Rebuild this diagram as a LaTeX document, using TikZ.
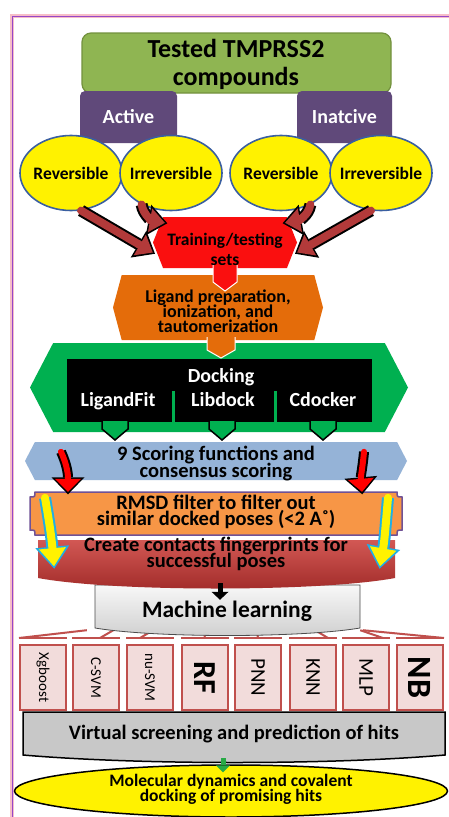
\documentclass[tikz,border=0pt]{standalone}
\usepackage{fontspec}
\setmainfont{Carlito}
\usetikzlibrary{shapes.geometric,shapes.symbols,arrows.meta,calc}

\definecolor{olivegrn}{RGB}{143,181,82}
\definecolor{olivedk}{RGB}{115,145,62}
\definecolor{violetbox}{RGB}{96,73,122}
\definecolor{ellblue}{RGB}{58,95,160}
\definecolor{trainred}{RGB}{250,15,15}
\definecolor{prepor}{RGB}{228,108,10}
\definecolor{dockgrn}{RGB}{0,176,80}
\definecolor{scoreblue}{RGB}{149,179,215}
\definecolor{rmsdor}{RGB}{247,150,70}
\definecolor{rmsdline}{RGB}{112,82,150}
\definecolor{fptop}{RGB}{210,88,84}
\definecolor{fpbot}{RGB}{160,42,40}
\definecolor{fpred}{RGB}{192,80,77}
\definecolor{algopink}{RGB}{242,220,219}
\definecolor{arrred}{RGB}{178,58,58}
\definecolor{cyanline}{RGB}{30,175,230}
\definecolor{arrgrn}{RGB}{40,170,70}
\definecolor{framepink}{RGB}{246,190,200}
\definecolor{framevio}{RGB}{150,70,200}
\definecolor{vsgray}{RGB}{200,200,200}

\newcommand\fsz[2]{\fontsize{#1}{#2}\selectfont\lineskiplimit=-100pt\bfseries}
\newcommand\fsr[1]{\fontsize{#1}{#1}\selectfont}

\tikzset{
  every node/.style={align=center, inner sep=0pt},
  cmpd/.style={fill=olivegrn, draw=olivedk, line width=1.2pt, rounded corners=9pt,
    minimum width=309pt, minimum height=60pt},
  grp/.style={fill=violetbox, rounded corners=5pt, minimum height=52pt, text=white,
    font=\fsz{20}{22}},
  kind/.style={ellipse, fill=yellow, draw=ellblue, line width=1.6pt, minimum width=102pt,
    minimum height=75pt, inner xsep=-8pt, font=\fsz{17.5}{20}},
  hexa/.style={signal, signal to=west and east, fill=#1},
  tab/.style={fill=#1, draw=white, line width=1pt},
  algo/.style={fill=algopink, draw=fpred, line width=2pt, minimum width=46pt, minimum height=65pt},
  fan/.style={draw=fpred, line width=2pt},
  bigarr/.style={draw=arrred, line width=8pt, line cap=round,
    -{Triangle[length=15pt,width=24pt,line width=0pt]},
    preaction={draw=black, line width=12pt, -{Triangle[length=19pt,width=31pt,line width=0pt]},
      shorten >=-2.5pt}},
  bentarr/.style={draw=red, line width=6pt, line cap=round,
    -{Triangle[length=13pt,width=26pt,line width=0pt]},
    preaction={draw=black, line width=10pt, -{Triangle[length=17pt,width=33pt,line width=0pt]},
      shorten >=-2.5pt}},
  yelarr/.style={draw=yellow, line width=8pt, line cap=round,
    -{Triangle[length=18pt,width=27pt,line width=0pt]},
    preaction={draw=cyanline, line width=12pt, -{Triangle[length=22pt,width=34pt,line width=0pt]},
      shorten >=-2.5pt}},
}

\begin{document}
\begin{tikzpicture}[x=1pt, y=-1pt]
\useasboundingbox (0,0) rectangle (449,817);
\fill[white] (0,0) rectangle (449,817);
% frame
\draw[framepink, line width=4pt] (12,817) -- (12,16) -- (449,16);
\draw[framevio, line width=0.8pt] (12,817) -- (12,16) -- (449,16);

% compounds
\node[cmpd] (cmp) at (236.5,63) {};
\node[font=\fsz{26}{28}, anchor=base] (cmptxt) at (236,85) {Tested TMPRSS2\\compounds};
\node[grp, minimum width=97pt] (act) at (128.5,117) {Active};
\node[grp, minimum width=95pt] (inact) at (344.5,117) {Inatcive};
\node[kind] (r1) at (71,173) {Reversible};
\node[kind] (i1) at (171,173) {Irreversible};
\node[kind] (r2) at (281,173) {Reversible};
\node[kind] (i2) at (381,173) {Irreversible};

% docking
\node[hexa=dockgrn, signal pointer angle=125, minimum width=378pt, minimum height=89pt] (dock) at (219,387.5) {};
\node[fill=black, minimum width=305pt, minimum height=63pt] (dockbox) at (219.5,390.5) {};
\draw[dockgrn, line width=3pt] (173,391) -- (173,422);
\draw[dockgrn, line width=3pt] (275,391) -- (275,422);
\node[font=\fsz{20}{22}, text=white, anchor=base] (docktxt) at (221,382) {Docking};
\node[font=\fsz{20}{22}, text=white, anchor=base] (lf) at (118,406) {LigandFit};
\node[font=\fsz{20}{22}, text=white, anchor=base] (ld) at (223,406) {Libdock};
\node[font=\fsz{20}{22}, text=white, anchor=base] (cd) at (323,406) {Cdocker};

% preparation
\node[hexa=prepor, signal pointer angle=150, minimum width=210pt, minimum height=65pt] (prep) at (218,307.5) {};
\node[font=\fsz{18}{15}, anchor=base] (preptxt) at (218,332) {Ligand preparation,\\ionization, and\\tautomerization};
\path[tab=prepor] (207,337) -- (207,350) -- (221,358) -- (235,350) -- (235,337);

% training
\node[hexa=trainred, signal pointer angle=137, minimum width=144pt, minimum height=51pt] (trn) at (225,242.5) {};
\node[font=\fsz{17.5}{20}, anchor=base] (trntxt) at (225,265) {Training/testing\\sets};
\path[tab=trainred] (213,265) -- (213,282) -- (225,291) -- (237,282) -- (237,265);

% scoring
\node[hexa=scoreblue, signal pointer angle=125, minimum width=382pt, minimum height=38pt] (score) at (216,461) {};
\node[font=\fsz{20.5}{17}, anchor=base] (scoretxt) at (216,477.5) {9 Scoring functions and\\consensus scoring};
\draw[fill=dockgrn, line width=1.5pt] (102,421) -- (102,429) -- (115,440) -- (128,429) -- (128,421);
\draw[fill=dockgrn, line width=1.5pt] (209,421) -- (209,429) -- (222,440) -- (235,429) -- (235,421);
\draw[fill=dockgrn, line width=1.5pt] (310,421) -- (310,429) -- (323,440) -- (336,429) -- (336,421);

% arrows into training set
\draw[bigarr] (r1.-75) -- ([yshift=-10pt]trn.west);
\draw[bigarr] (i1.-133) to[out=-80, in=170] ([xshift=2pt,yshift=-6pt]trn.north west);
\draw[bigarr] (r2.-47) to[out=-100, in=10] ([xshift=-2pt,yshift=-6pt]trn.north east);
\draw[bigarr] (i2.-105) -- ([yshift=-10pt]trn.east);

% rmsd filter
\draw[fill=rmsdor, draw=rmsdline, line width=1.5pt] (35,492) -- (397,492) .. controls (397,497) .. (402,497)
  -- (402,530) .. controls (397,530) .. (397,535) -- (35,535) .. controls (35,530) .. (30,530)
  -- (30,497) .. controls (35,497) .. (35,492) -- cycle;
\node[minimum width=372pt, minimum height=43pt] (rmsd) at (216,513.5) {};
\node[font=\fsz{20.5}{16}, anchor=base] (rmsdtxt) at (216,525.5) {RMSD filter to filter out\\similar docked poses (<2 A˚)};
\draw[bentarr] ([xshift=-155pt,yshift=-10pt]score.north) to[out=-65, in=90] ([xshift=-148pt]rmsd.north);
\draw[bentarr] ([xshift=148pt,yshift=-10pt]score.north) to[out=-95, in=95] ([xshift=146pt]rmsd.north);

% machine learning
\node[minimum width=265pt, minimum height=45pt] (ml) at (227.5,607.5) {};
\node[algo] (b1) at (43,677.5) {\rotatebox{-90}{\fsr{15}Xgboost}};
\node[algo] (b2) at (96,677.5) {\rotatebox{-90}{\fsr{15}C-SVM}};
\node[algo] (b3) at (150,677.5) {\rotatebox{-90}{\fsr{15}nu-SVM}};
\node[algo] (b4) at (205,677.5) {\rotatebox{-90}{\fsz{32}{32}RF}};
\node[algo] (b5) at (258,677.5) {\rotatebox{-90}{\fsr{21}PNN}};
\node[algo] (b6) at (313,677.5) {\rotatebox{-90}{\fsr{21}KNN}};
\node[algo] (b7) at (366,677.5) {\rotatebox{-90}{\fsr{21}MLP}};
\node[algo] (b8) at (420,677.5) {\rotatebox{-90}{\fsz{34}{34}NB}};
\draw[fan] ([yshift=6pt]b1.north west) -- ([yshift=6pt]b1.north east);
\draw[fan] ([yshift=6pt]b2.north west) -- ([yshift=6pt]b2.north east);
\draw[fan] ([yshift=6pt]b3.north west) -- ([yshift=6pt]b3.north east);
\draw[fan] ([yshift=6pt]b4.north west) -- ([yshift=6pt]b4.north east);
\draw[fan] ([yshift=6pt]b5.north west) -- ([yshift=6pt]b5.north east);
\draw[fan] ([yshift=6pt]b6.north west) -- ([yshift=6pt]b6.north east);
\draw[fan] ([yshift=6pt]b7.north west) -- ([yshift=6pt]b7.north east);
\draw[fan] ([yshift=6pt]b8.north west) -- ([yshift=6pt]b8.north east);
\draw[fan] ([yshift=6pt]b1.north west) -- ($(ml.south west)!-0.03!(ml.south east)$);
\draw[fan] ([xshift=4pt,yshift=6pt]b2.north) -- ($(ml.south west)!0.07!(ml.south east)$);
\draw[fan] ([xshift=-10pt,yshift=6pt]b3.north) -- ($(ml.south west)!0.22!(ml.south east)$);
\draw[fan] ([yshift=6pt]b4.north) -- ($(ml.south west)!0.41!(ml.south east)$);
\draw[fan] ([yshift=6pt]b5.north) -- ($(ml.south west)!0.61!(ml.south east)$);
\draw[fan] ([xshift=15pt,yshift=6pt]b6.north) -- ($(ml.south west)!0.83!(ml.south east)$);
\draw[fan] ([xshift=17pt,yshift=6pt]b7.north) -- ($(ml.south west)!1.0!(ml.south east)$);
\draw[fan] ([yshift=6pt]b8.north east) -- ($(ml.south west)!1.01!(ml.south east)$);
\path[top color=gray!6, bottom color=gray!38, draw=gray!60!black, line width=0.8pt]
  (95,585) -- (360,585) -- (360,628) .. controls (300,638) and (155,638) .. (95,628) -- cycle;
\node[font=\fsz{23.5}{25}, anchor=base] (mltxt) at (227,617) {Machine learning};

% contact fingerprints
\path[top color=fptop, bottom color=fpbot] (38,540) -- (395,540) -- (395,578)
  .. controls (320,592) and (113,592) .. (38,578) -- cycle;
\node[minimum width=357pt, minimum height=42pt] (fp) at (216.5,561) {};
\node[font=\fsz{20.5}{16}, anchor=base] (fptxt) at (216,567.5) {Create contacts fingerprints for\\successful poses};
\draw[yelarr] ([xshift=-171pt,yshift=-6pt]rmsd.north) to[out=-80, in=95] ([xshift=-162.5pt,yshift=16pt]fp.south);
\draw[yelarr] ([xshift=172pt,yshift=-6pt]rmsd.north) to[out=-95, in=80] ([xshift=163.5pt,yshift=16pt]fp.south);
\draw[draw=black, line width=5pt, -{Triangle[length=8pt,width=17pt,line width=0pt]}]
  ([xshift=3.5pt,yshift=-1pt]fp.south) -- ([xshift=-7.5pt,yshift=-15pt]ml.north);

% virtual screening
\path[fill=vsgray, draw=black, line width=1.5pt] (23,712) -- (445,712) -- (445,755)
  .. controls (330,765) and (140,765) .. (23,755) -- cycle;
\node[minimum width=422pt, minimum height=45pt] (vs) at (234,734.5) {};
\node[font=\fsz{20.5}{22}, anchor=base] (vstxt) at (234,739) {Virtual screening and prediction of hits};

% molecular dynamics
\node[ellipse, fill=yellow, draw=black, line width=1.5pt, minimum width=433pt, minimum height=52pt] (md) at (231,791) {};
\node[font=\fsz{17.5}{15}, anchor=base] (mdtxt) at (231,801) {Molecular dynamics and covalent\\docking of promising hits};
\draw[draw=arrgrn, line width=5pt, -{Triangle[length=7pt,width=14pt,line width=0pt]}]
  ([xshift=-11pt,yshift=-1pt]vs.south) -- ([xshift=-8pt,yshift=-8pt]md.north);
\end{tikzpicture}
\end{document}
